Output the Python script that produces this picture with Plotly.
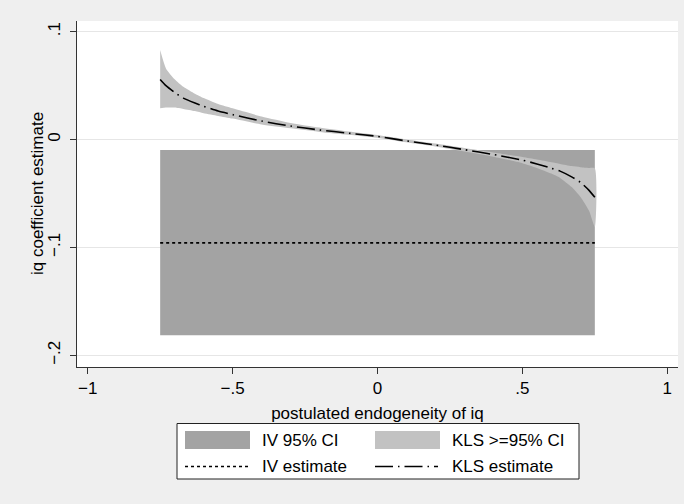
import plotly.graph_objects as go

# ---------------- data ----------------
rho = [-0.75, -0.73, -0.70, -0.67, -0.63, -0.60, -0.55, -0.50, -0.40, -0.30,
       -0.20, -0.10, 0.00, 0.10, 0.20, 0.30, 0.40, 0.50, 0.55, 0.60,
       0.63, 0.67, 0.70, 0.73, 0.75]
kls_est = [0.0558, 0.0500, 0.0437, 0.0385, 0.0340, 0.0310, 0.0265, 0.0232, 0.0172, 0.0126,
           0.0090, 0.0060, 0.0030, -0.0012, -0.0050, -0.0093, -0.0138, -0.0190, -0.0225, -0.0265,
           -0.0292, -0.0345, -0.0395, -0.0470, -0.0535]
kls_upper = [0.0830, 0.0660, 0.0560, 0.0490, 0.0425, 0.0385, 0.0330, 0.0290, 0.0215, 0.0155,
             0.0112, 0.0075, 0.0042, 0.0002, -0.0036, -0.0078, -0.0120, -0.0162, -0.0185, -0.0210,
             -0.0225, -0.0245, -0.0255, -0.0262, -0.0267]
kls_lower = [0.0290, 0.0298, 0.0298, 0.0285, 0.0265, 0.0245, 0.0220, 0.0195, 0.0140, 0.0105,
             0.0072, 0.0046, 0.0018, -0.0025, -0.0064, -0.0110, -0.0158, -0.0218, -0.0262, -0.0315,
             -0.0355, -0.0440, -0.0530, -0.0660, -0.0810]
iv_rho = [-0.75, 0.75]
iv_ci_lower = [-0.1814, -0.1814]
iv_ci_upper = [-0.0097, -0.0097]
iv_est = [-0.0957, -0.0957]

x_ticks = [-1, -0.5, 0, 0.5, 1]
x_tick_labels = ["\u22121", "\u2212.5", "0", ".5", "1"]
y_ticks = [0.1, 0, -0.1, -0.2]
y_tick_labels = [".1", "0", "\u2212.1", "\u2212.2"]
legend_labels = ["IV 95% CI", "KLS >=95% CI", "IV estimate", "KLS estimate"]

# ---------------- style ----------------
FONT = "Liberation Sans, Arial, Helvetica, sans-serif"
FS = 17
DARK = "#a3a3a3"
LIGHT = "#c2c2c2"
BG = "#efefef"
KLS_DASH = "18px,5px,1.5px,5px"

W, H = 684, 504
L, R, T, B = 77, 678, 21, 367

fig = go.Figure()

# IV 95% CI band
fig.add_trace(go.Scatter(x=iv_rho, y=iv_ci_lower, mode="lines",
                         line=dict(width=0), hoverinfo="skip", showlegend=False))
fig.add_trace(go.Scatter(x=iv_rho, y=iv_ci_upper, mode="lines", fill="tonexty",
                         fillcolor=DARK, line=dict(width=0), name=legend_labels[0],
                         showlegend=False))
# KLS >=95% CI band
fig.add_trace(go.Scatter(x=rho + rho[::-1], y=kls_upper + kls_lower[::-1],
                         mode="lines", fill="toself", fillcolor=LIGHT,
                         line=dict(width=0, shape="spline", smoothing=0.6),
                         name=legend_labels[1], showlegend=False))
# IV estimate
fig.add_trace(go.Scatter(x=iv_rho, y=iv_est, mode="lines",
                         line=dict(color="black", width=1.6, dash="dot"),
                         name=legend_labels[2], showlegend=False))
# KLS estimate
fig.add_trace(go.Scatter(x=rho, y=kls_est, mode="lines",
                         line=dict(color="black", width=1.6, dash=KLS_DASH,
                                   shape="spline", smoothing=0.6),
                         name=legend_labels[3], showlegend=False))

# ---------------- manual legend ----------------
def px(x):
    return (x - L) / (R - L)

def py(y):
    return (B - y) / (B - T)

shapes = []
annotations = []
shapes.append(dict(type="rect", xref="paper", yref="paper",
                   x0=px(177), x1=px(579), y0=py(479), y1=py(423.5),
                   fillcolor="white", line=dict(color="#222222", width=1), layer="above"))
shapes.append(dict(type="rect", xref="paper", yref="paper",
                   x0=px(185), x1=px(250), y0=py(449), y1=py(431),
                   fillcolor=DARK, line=dict(width=0), layer="above"))
shapes.append(dict(type="rect", xref="paper", yref="paper",
                   x0=px(375), x1=px(440), y0=py(449), y1=py(431),
                   fillcolor=LIGHT, line=dict(width=0), layer="above"))
shapes.append(dict(type="line", xref="paper", yref="paper",
                   x0=px(185), x1=px(248), y0=py(466.5), y1=py(466.5),
                   line=dict(color="black", width=1.6, dash="dot"), layer="above"))
shapes.append(dict(type="line", xref="paper", yref="paper",
                   x0=px(375), x1=px(438), y0=py(466.5), y1=py(466.5),
                   line=dict(color="black", width=1.6, dash=KLS_DASH), layer="above"))

for (tx, ty), lab in zip([(260, 440), (450, 440), (260, 466.5), (450, 466.5)], legend_labels):
    annotations.append(dict(xref="paper", yref="paper", x=px(tx), y=py(ty),
                            xanchor="left", yanchor="middle", text=lab, showarrow=False,
                            font=dict(family=FONT, size=FS, color="black")))

# y-axis title placed as rotated text
annotations.append(dict(xref="paper", yref="paper", x=px(37), y=0.5,
                        xanchor="center", yanchor="middle", textangle=-90,
                        text="iq coefficient estimate", showarrow=False,
                        font=dict(family=FONT, size=FS, color="black")))

fig.update_layout(
    width=W, height=H,
    margin=dict(l=L, r=W - R, t=T, b=H - B, pad=0, autoexpand=False),
    paper_bgcolor=BG, plot_bgcolor="white",
    font=dict(family=FONT, size=FS, color="black"),
    shapes=shapes, annotations=annotations,
    showlegend=False,
)
fig.update_xaxes(range=[-1.037, 1.037], tickvals=x_ticks, ticktext=x_tick_labels,
                 automargin=False,
                 showgrid=False, zeroline=False, showline=True, linecolor="#333333",
                 linewidth=1, ticks="outside", ticklen=6, tickcolor="#333333",
                 title=dict(text="postulated endogeneity of iq", standoff=9,
                            font=dict(family=FONT, size=FS)))
fig.update_yaxes(range=[-0.2108, 0.110], tickvals=y_ticks, ticktext=y_tick_labels,
                 automargin=False, ticklabelstandoff=3,
                 tickangle=-90, showgrid=True, gridcolor="#e6e6e6", gridwidth=1,
                 zeroline=False, showline=True, linecolor="#333333", linewidth=1,
                 ticks="outside", ticklen=6, tickcolor="#333333")

fig.write_html("out.html", config={"displayModeBar": False},
               post_script="document.body.style.margin='0';document.body.style.padding='0';")
